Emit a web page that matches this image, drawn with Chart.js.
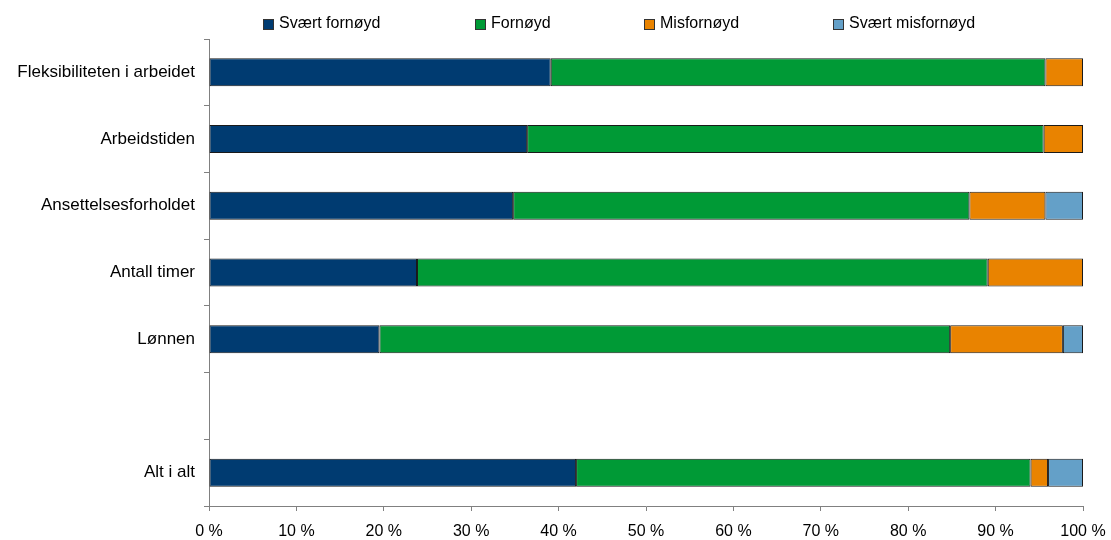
<!DOCTYPE html>
<html lang="no">
<head>
    <meta charset="UTF-8">
    <title>Tilfredshet med jobben</title>
    <script src="https://cdn.jsdelivr.net/npm/chart.js"></script>
    <style>
        body { margin: 0; background: #fff; }
        #wrap { width: 1111px; height: 540px; position: relative; }
    </style>
</head>
<body>
    <div id="wrap"><canvas id="satisfactionChart"></canvas></div>
    <script>
        // values, percent of respondents
        var categories = ['Fleksibiliteten i arbeidet', 'Arbeidstiden', 'Ansettelsesforholdet', 'Antall timer', 'Lønnen', '', 'Alt i alt'];
        var seriesNames = ['Svært fornøyd', 'Fornøyd', 'Misfornøyd', 'Svært misfornøyd'];
        var sværtFornøyd = [39.1, 36.4, 34.8, 23.8, 19.5, null, 42.0];
        var fornøyd = [56.6, 59.1, 52.2, 65.3, 65.3, null, 52.0];
        var misfornøyd = [4.3, 4.5, 8.7, 10.9, 12.9, null, 2.0];
        var sværtMisfornøyd = [null, null, 4.3, null, 2.3, null, 4.0];
        var xTicks = [0, 10, 20, 30, 40, 50, 60, 70, 80, 90, 100];

        var colors = ['#003b71', '#009a36', '#e98300', '#64a0c8'];
        var legendX = [263, 475, 644, 833]; // where each legend square starts

        Chart.defaults.font.family = '"Liberation Sans", Arial, sans-serif';
        Chart.defaults.font.size = 16;
        Chart.defaults.color = '#000';

        // Excel-like legend row on top, spaced like the original
        var topLegend = {
            id: 'topLegend',
            afterDraw: function(chart) {
                var ctx = chart.ctx;
                ctx.save();
                ctx.font = '16px "Liberation Sans", Arial, sans-serif';
                ctx.textBaseline = 'middle';
                chart.data.datasets.forEach(function(ds, i) {
                    var x = legendX[i];
                    ctx.fillStyle = ds.backgroundColor;
                    ctx.fillRect(x, 19, 10, 10);
                    ctx.strokeStyle = '#333';
                    ctx.lineWidth = 1;
                    ctx.strokeRect(x + 0.5, 19.5, 10, 10);
                    ctx.fillStyle = '#000';
                    ctx.fillText(ds.label, x + 16, 24);
                });
                ctx.restore();
            }
        };

        var allSeries = [sværtFornøyd, fornøyd, misfornøyd, sværtMisfornøyd];
        var ctx = document.getElementById('satisfactionChart').getContext('2d');
        var satisfactionChart = new Chart(ctx, {
            type: 'bar',
            data: {
                labels: categories,
                datasets: allSeries.map(function(values, i) {
                    return {
                        label: seriesNames[i],
                        data: values,
                        backgroundColor: colors[i],
                        borderColor: '#1a1a1a',
                        borderWidth: 1,
                        borderSkipped: false,
                        barPercentage: 0.42,
                        categoryPercentage: 1
                    };
                })
            },
            options: {
                indexAxis: 'y',
                responsive: true,
                maintainAspectRatio: false,
                animation: false,
                layout: { padding: { top: 39, right: 28, left: 0, bottom: 0 } },
                plugins: {
                    legend: { display: false },
                    tooltip: { enabled: false }
                },
                scales: {
                    x: {
                        stacked: true,
                        min: 0,
                        max: 100,
                        afterBuildTicks: function(scale) {
                            scale.ticks = xTicks.map(function(v) { return { value: v }; });
                        },
                        afterFit: function(scale) {
                            scale.height = 34;
                            scale.paddingRight = 0; // let "100 %" hang past the plot edge
                        },
                        ticks: {
                            padding: 11,
                            maxRotation: 0,
                            font: { size: 16 },
                            callback: function(v) { return v + ' %'; }
                        },
                        grid: { drawOnChartArea: false, tickLength: 5, color: '#808080' },
                        border: { color: '#808080' }
                    },
                    y: {
                        stacked: true,
                        afterFit: function(scale) { scale.width = 209; },
                        ticks: { padding: 9, autoSkip: false, font: { size: 17 } },
                        grid: { drawOnChartArea: false, tickLength: 5, color: '#808080' },
                        border: { color: '#808080' }
                    }
                }
            },
            plugins: [topLegend]
        });
    </script>
</body>
</html>
